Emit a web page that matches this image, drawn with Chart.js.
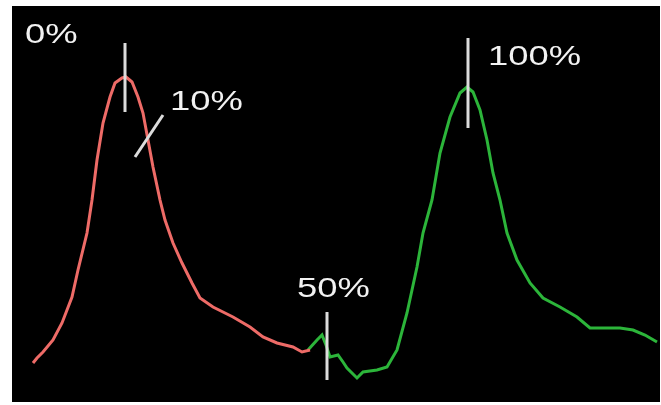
<!DOCTYPE html>
<html>
<head>
<meta charset="utf-8">
<script src="https://cdn.jsdelivr.net/npm/chart.js@4.4.1/dist/chart.umd.min.js"></script>
<style>
    html, body { margin: 0; padding: 0; background: #fff; }
    #panel { position: absolute; left: 12px; top: 6px; width: 648px; height: 396px; background: #000; }
</style>
</head>
<body>
<div id="panel"><canvas id="tracecanvas" width="648" height="396"></canvas></div>
<script>
// red trace (before), green trace (after)
let redX = [21, 25, 31, 41, 50, 60, 66, 75, 80, 85, 91, 98, 103, 110, 114, 120, 126, 131, 136, 141, 148, 153, 161, 170, 180, 188, 201, 221, 238, 251, 265, 281, 290, 298];
let redY = [39, 44, 50, 62, 79, 105, 132, 169, 202, 242, 279, 305, 319, 324, 325, 320, 305, 289, 262, 235, 202, 182, 159, 139, 119, 104, 95, 85, 75, 65, 59, 55, 50, 52];
let greenX = [296, 305, 310, 314, 318, 326, 331, 335, 345, 351, 365, 375, 385, 395, 405, 411, 420, 428, 438, 448, 455, 461, 468, 475, 481, 488, 495, 505, 518, 531, 548, 565, 578, 608, 621, 633, 645];
let greenY = [52, 62, 67, 57, 45, 47, 40, 34, 24, 30, 32, 35, 52, 89, 135, 169, 202, 249, 285, 309, 315, 310, 292, 262, 229, 202, 169, 142, 119, 104, 95, 85, 74, 74, 72, 67, 60];

// percent markers: line from (x1,y1) to (x2,y2), label at (lx,ly)
let markerLabels = ["0%", "10%", "50%", "100%"];
let markerX1 = [113, 123, 315, 456];
let markerY1 = [290, 245, 22, 274];
let markerX2 = [113, 151, 315, 456];
let markerY2 = [359, 287, 90, 364];
let labelX = [13, 158, 285, 476];
let labelY = [359, 292, 105, 337];

function toPoints(xs, ys) {
    return xs.map(function(x, i) { return { x: x, y: ys[i] }; });
}

const markerPlugin = {
    id: 'markers',
    afterDatasetsDraw(chart) {
        let ctx = chart.ctx;
        let sx = chart.scales.x;
        let sy = chart.scales.y;
        ctx.save();
        ctx.strokeStyle = '#dcdcdc';
        ctx.lineWidth = 3;
        for (let i = 0; i < markerLabels.length; i++) {
            ctx.beginPath();
            ctx.moveTo(sx.getPixelForValue(markerX1[i]), sy.getPixelForValue(markerY1[i]));
            ctx.lineTo(sx.getPixelForValue(markerX2[i]), sy.getPixelForValue(markerY2[i]));
            ctx.stroke();
        }
        ctx.fillStyle = '#f2f2f2';
        ctx.font = '28px "Liberation Sans", Arial, sans-serif';
        ctx.textBaseline = 'alphabetic';
        for (let i = 0; i < markerLabels.length; i++) {
            ctx.save();
            ctx.translate(sx.getPixelForValue(labelX[i]), sy.getPixelForValue(labelY[i]));
            ctx.scale(1.3, 1);
            ctx.fillText(markerLabels[i], 0, 0);
            ctx.restore();
        }
        ctx.restore();
    }
};

let ctx = document.getElementById('tracecanvas').getContext('2d');
let traceChart = new Chart(ctx, {
    type: 'line',
    data: {
        datasets: [{
            data: toPoints(redX, redY),
            borderColor: '#ee6b67',
            borderWidth: 3,
            pointRadius: 0,
            tension: 0
        }, {
            data: toPoints(greenX, greenY),
            borderColor: '#2cb53a',
            borderWidth: 3,
            pointRadius: 0,
            tension: 0
        }]
    },
    options: {
        responsive: false,
        animation: false,
        layout: { padding: 0 },
        plugins: { legend: { display: false }, tooltip: { enabled: false } },
        scales: {
            x: { type: 'linear', min: 0, max: 648, display: false },
            y: { type: 'linear', min: 0, max: 396, display: false }
        }
    },
    plugins: [markerPlugin]
});
</script>
</body>
</html>
